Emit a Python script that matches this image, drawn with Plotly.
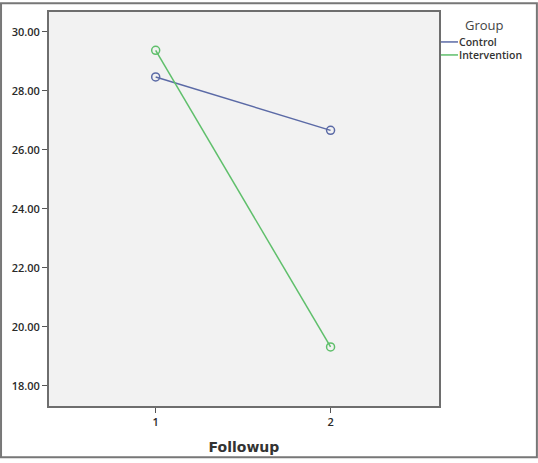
import plotly.graph_objects as go

# estimated marginal means
followup = [1, 2]
control = [28.47, 26.66]
intervention = [29.37, 19.32]

y_ticks = [18, 20, 22, 24, 26, 28, 30]
y_labels = ["%.2f" % v for v in y_ticks]

blue = "#5b6aa6"
green = "#5fbf6b"


def main():
    fig = go.Figure()
    for name, vals, col in [("Control", control, blue), ("Intervention", intervention, green)]:
        fig.add_trace(go.Scatter(
            x=followup, y=vals, name=name, mode="lines+markers",
            line=dict(color=col, width=1.5),
            marker=dict(symbol="circle-open", size=8, color=col, line=dict(width=1.5)),
            showlegend=False,
        ))

    axis_font = dict(family="Open Sans", size=11, color="#2a2a2a", weight=600)
    fig.update_layout(
        width=538, height=463,
        margin=dict(l=49, r=99, t=10, b=53),
        paper_bgcolor="white",
        plot_bgcolor="#f2f2f2",
        xaxis=dict(
            range=[0.39, 2.62], tickvals=followup, ticktext=["1", "2"],
            showgrid=False, zeroline=False, showline=True, mirror=True,
            linecolor="#6e6e6e", linewidth=2, ticks="outside", ticklen=5,
            tickcolor="#555555", tickfont=axis_font,
            title=dict(text="<b>Followup</b>", standoff=14,
                       font=dict(family="DejaVu Sans", size=14, color="#333333")),
        ),
        yaxis=dict(
            range=[17.32, 30.67], tickvals=y_ticks, ticktext=y_labels,
            showgrid=False, zeroline=False, showline=True, mirror=True,
            linecolor="#6e6e6e", linewidth=2, ticks="outside", ticklen=5,
            tickcolor="#555555", tickfont=axis_font,
        ),
    )

    # legend drawn by hand, SPSS style (short line samples, no markers)
    fig.add_annotation(text="Group", xref="paper", yref="paper", x=1.0615, y=0.968,
                       xanchor="left", yanchor="middle", showarrow=False,
                       font=dict(family="Open Sans", size=13, color="#444444"))
    for i, (name, col) in enumerate([("Control", blue), ("Intervention", green)]):
        yy = 0.924 - i * 0.033
        fig.add_shape(type="line", xref="paper", yref="paper", x0=1.005, x1=1.0487,
                      y0=yy, y1=yy, line=dict(color=col, width=1.5))
        fig.add_annotation(text=name, xref="paper", yref="paper", x=1.049, y=yy,
                           xanchor="left", yanchor="middle", showarrow=False, borderpad=0,
                           font=dict(family="Open Sans", size=10.5, color="#333333", weight=600))

    # outer frame around the whole chart
    fig.add_shape(type="rect", xref="paper", yref="paper", x0=-0.123, x1=1.251,
                  y0=-0.13, y1=1.0225, line=dict(color="#777777", width=2))

    # page has a default body margin, drop it so the figure fills the window
    fig.write_html("out.html", config={"displayModeBar": False},
                   post_script="document.body.style.margin='0';")


if __name__ == "__main__":
    main()
